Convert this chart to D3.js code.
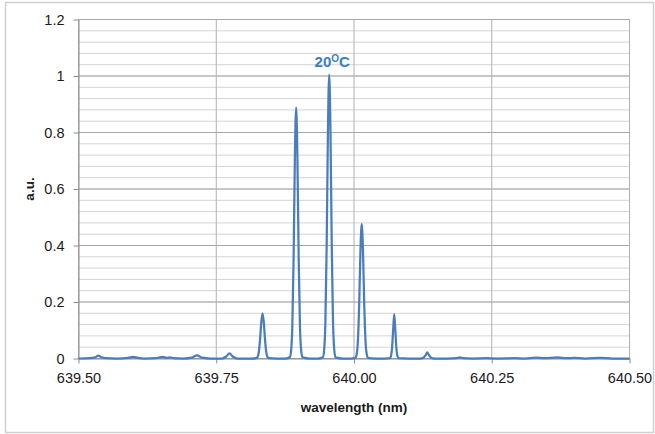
<!DOCTYPE html>
<html>
<head>
<meta charset="utf-8">
<script src="https://cdn.jsdelivr.net/npm/d3@7"></script>
<style>
  html, body { margin: 0; padding: 0; background: #fff; }
  svg { display: block; }
  text { font-family: "Liberation Sans", Arial, sans-serif; }
</style>
</head>
<body>
<div id="chart"></div>
<script>
// Spectrum samples: wavelength (nm) and normalised intensity (a.u.)
const wavelength = [
  639.500, 639.520, 639.530, 639.536, 639.542, 639.550, 639.570, 639.590, 639.599, 639.608,
  639.620, 639.640, 639.653, 639.660, 639.666, 639.672, 639.690, 639.706, 639.715, 639.724,
  639.740, 639.760, 639.768, 639.774, 639.780, 639.788, 639.815,
  639.8225, 639.8248, 639.8271, 639.8294, 639.8317, 639.8340, 639.8363, 639.8386, 639.8409, 639.8432, 639.8455,
  639.860, 639.875,
  639.8835, 639.8858, 639.8881, 639.8904, 639.8927, 639.8950, 639.8973, 639.8996, 639.9019, 639.9042, 639.9065,
  639.920, 639.935,
  639.9435, 639.9458, 639.9481, 639.9504, 639.9527, 639.9550, 639.9573, 639.9596, 639.9619, 639.9642, 639.9665,
  639.980, 639.994,
  640.0025, 640.0048, 640.0071, 640.0094, 640.0117, 640.0140, 640.0163, 640.0186, 640.0209, 640.0232, 640.0255,
  640.040, 640.055,
  640.065, 640.067, 640.069, 640.071, 640.073, 640.075, 640.077, 640.079, 640.081,
  640.100, 640.120, 640.126, 640.130, 640.133, 640.136, 640.140, 640.146,
  640.170, 640.186, 640.192, 640.198, 640.215, 640.240, 640.260, 640.290, 640.310, 640.330,
  640.345, 640.370, 640.385, 640.400, 640.420, 640.445, 640.470, 640.500
];
const intensity = [
  0.000, 0.001, 0.004, 0.010, 0.004, 0.001, 0.000, 0.002, 0.006, 0.002,
  0.000, 0.001, 0.006, 0.002, 0.004, 0.001, 0.000, 0.003, 0.011, 0.003,
  0.000, 0.000, 0.007, 0.018, 0.007, 0.000, 0.000,
  0.001, 0.005, 0.021, 0.064, 0.128, 0.160, 0.128, 0.064, 0.021, 0.005, 0.001,
  0.000, 0.000,
  0.004, 0.027, 0.115, 0.355, 0.710, 0.888, 0.710, 0.355, 0.115, 0.027, 0.004,
  0.000, 0.000,
  0.004, 0.030, 0.131, 0.402, 0.804, 1.005, 0.804, 0.402, 0.131, 0.030, 0.004,
  0.000, 0.000,
  0.002, 0.014, 0.062, 0.190, 0.381, 0.476, 0.381, 0.190, 0.062, 0.014, 0.002,
  0.000, 0.000,
  0.001, 0.008, 0.035, 0.100, 0.157, 0.100, 0.035, 0.008, 0.001,
  0.000, 0.000, 0.003, 0.012, 0.022, 0.012, 0.003, 0.000,
  0.000, 0.001, 0.004, 0.001, 0.000, 0.001, 0.000, 0.001, 0.000, 0.003,
  0.001, 0.004, 0.001, 0.002, 0.000, 0.002, 0.000, 0.000
];

const xTicks = [639.50, 639.75, 640.00, 640.25, 640.50];
const yTicks = [0, 0.2, 0.4, 0.6, 0.8, 1, 1.2];
const yMinorTicks = d3.range(0, 1.2001, 0.04);

const peakLabel = { text: "20", sup: "O", tail: "C", wavelength: 639.955, value: 1.005 };

const W = 655, H = 434;
const margin = { left: 78.5, right: 25.5, top: 19.5, bottom: 75.5 };

const svg = d3.select("#chart").append("svg")
  .attr("width", W).attr("height", H);

// outer chart frame
svg.append("rect")
  .attr("x", 5.5).attr("y", 2.5)
  .attr("width", 648).attr("height", 430)
  .attr("fill", "#fff")
  .attr("stroke", "#d0d0d0").attr("stroke-width", 1.5);

const x = d3.scaleLinear().domain([639.5, 640.5]).range([margin.left, W - margin.right]);
const y = d3.scaleLinear().domain([0, 1.2]).range([H - margin.bottom, margin.top]);

const grid = svg.append("g");

// minor horizontal gridlines
grid.selectAll("line.minor").data(yMinorTicks).join("line")
  .attr("class", "minor")
  .attr("x1", x(639.5)).attr("x2", x(640.5))
  .attr("y1", d => y(d)).attr("y2", d => y(d))
  .attr("stroke", "#d4d4d4").attr("stroke-width", 1);

// major horizontal gridlines
grid.selectAll("line.major").data(yTicks).join("line")
  .attr("class", "major")
  .attr("x1", x(639.5)).attr("x2", x(640.5))
  .attr("y1", d => y(d)).attr("y2", d => y(d))
  .attr("stroke", "#a6a6a6").attr("stroke-width", 1);

// vertical gridlines
grid.selectAll("line.vert").data(xTicks).join("line")
  .attr("class", "vert")
  .attr("x1", d => x(d)).attr("x2", d => x(d))
  .attr("y1", y(0)).attr("y2", y(1.2))
  .attr("stroke", "#b0b0b0").attr("stroke-width", 1);

// axes
const xAxis = d3.axisBottom(x).tickValues(xTicks).tickFormat(d3.format(".2f"))
  .tickSizeInner(5).tickSizeOuter(0).tickPadding(9);
const gx = svg.append("g").attr("transform", `translate(0,${y(0)})`).call(xAxis);
gx.select(".domain").attr("stroke", "#8c8c8c");
gx.selectAll(".tick line").attr("stroke", "#8c8c8c");
gx.selectAll(".tick text")
  .attr("font-size", "14.5px").attr("fill", "#1a1a1a")
  .style("font-family", "'Liberation Sans', Arial, sans-serif");

const yAxis = d3.axisLeft(y).tickValues(yTicks).tickFormat(d => d3.format("")(+d.toFixed(1)))
  .tickSizeInner(5).tickSizeOuter(0).tickPadding(9);
const gy = svg.append("g").attr("transform", `translate(${x(639.5)},0)`).call(yAxis);
gy.select(".domain").attr("stroke", "#8c8c8c");
gy.selectAll(".tick line").attr("stroke", "#8c8c8c");
gy.selectAll(".tick text")
  .attr("font-size", "14.5px").attr("fill", "#1a1a1a")
  .style("font-family", "'Liberation Sans', Arial, sans-serif");

// spectrum trace
const pts = wavelength.map((w, i) => [w, intensity[i]]);
const line = d3.line().x(d => x(d[0])).y(d => y(d[1])).curve(d3.curveMonotoneX);
svg.append("path")
  .datum(pts)
  .attr("d", line)
  .attr("fill", "none")
  .attr("stroke", "#4a7ebb")
  .attr("stroke-width", 2.25)
  .attr("stroke-linejoin", "round");

// peak annotation
const lbl = svg.append("text")
  .attr("x", x(peakLabel.wavelength) + 3)
  .attr("y", y(peakLabel.value) - 8)
  .attr("text-anchor", "middle")
  .attr("font-weight", "bold")
  .attr("font-size", "15px")
  .attr("fill", "#3b7dc3");
lbl.append("tspan").text(peakLabel.text);
lbl.append("tspan").attr("font-size", "10px").attr("dy", -5).text(peakLabel.sup);
lbl.append("tspan").attr("dy", 5).text(peakLabel.tail);

// axis titles
svg.append("text")
  .attr("x", (x(639.5) + x(640.5)) / 2)
  .attr("y", 412)
  .attr("text-anchor", "middle")
  .attr("font-weight", "bold")
  .attr("font-size", "13.5px")
  .attr("fill", "#1a1a1a")
  .text("wavelength (nm)");

svg.append("text")
  .attr("transform", `translate(34,${(y(0) + y(1.2)) / 2}) rotate(-90)`)
  .attr("text-anchor", "middle")
  .attr("font-weight", "bold")
  .attr("font-size", "13.5px")
  .attr("fill", "#1a1a1a")
  .text("a.u.");
</script>
</body>
</html>
